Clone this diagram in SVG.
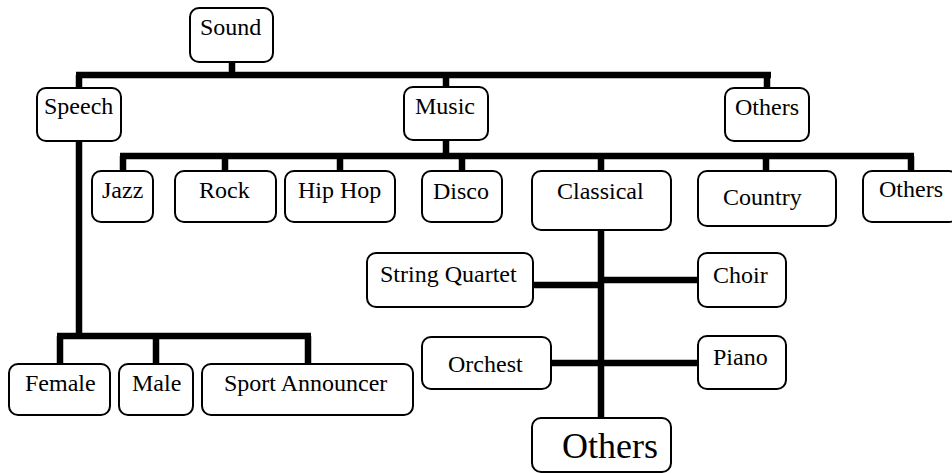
<svg xmlns="http://www.w3.org/2000/svg" width="952" height="473" viewBox="0 0 952 473">
<style>
.b{fill:#fff;stroke:#000;stroke-width:2}
text{font-family:'Liberation Serif','Times New Roman','DejaVu Serif',serif;font-size:24px;fill:#000}
.c{fill:none;stroke:#000;stroke-width:6.5;stroke-linecap:butt}
</style>
<rect width="952" height="473" fill="#fff"/>
<g id="connectors">
<path class="c" d="M232,62V75M76,75H771M79,75V88M446,75V87M767,75V88"/>
<path class="c" d="M79,141V339M57,336H311M60,336V364M156,336V364M308,336V364"/>
<path class="c" d="M446,140V156M120,156H914M123,156V171M225,156V171M340,156V171M462,156V171M601,156V171M766,156V171M911,156V171"/>
<path class="c" d="M601,230V418M601,280H698M530,285H601M551,363H698"/>
</g>
<g font-family="Liberation Serif, serif" font-size="24">
<g id="sound"><rect class="b" x="190" y="8" width="83" height="54" rx="9"/><text x="200" y="35">Sound</text></g>
<g id="speech"><rect class="b" x="37" y="88" width="84" height="53" rx="9"/><text x="44" y="114">Speech</text></g>
<g id="music"><rect class="b" x="404" y="87" width="84" height="53" rx="9"/><text x="415" y="114">Music</text></g>
<g id="others-top"><rect class="b" x="725" y="88" width="84" height="53" rx="9"/><text x="735" y="115">Others</text></g>
<g id="jazz"><rect class="b" x="92" y="171" width="61" height="51" rx="9"/><text x="102" y="198">Jazz</text></g>
<g id="rock"><rect class="b" x="175" y="171" width="101" height="51" rx="9"/><text x="199" y="198">Rock</text></g>
<g id="hiphop"><rect class="b" x="285" y="171" width="110" height="51" rx="9"/><text x="298" y="198">Hip Hop</text></g>
<g id="disco"><rect class="b" x="422" y="171" width="80" height="51" rx="9"/><text x="433" y="199">Disco</text></g>
<g id="classical"><rect class="b" x="532" y="171" width="139" height="59" rx="9"/><text x="557" y="199">Classical</text></g>
<g id="country"><rect class="b" x="698" y="171" width="138" height="55" rx="9"/><text x="723" y="205">Country</text></g>
<g id="others-music"><rect class="b" x="863" y="171" width="95" height="51" rx="9"/><text x="879" y="197">Others</text></g>
<g id="female"><rect class="b" x="9" y="364" width="101" height="51" rx="9"/><text x="25" y="391">Female</text></g>
<g id="male"><rect class="b" x="119" y="364" width="74" height="51" rx="9"/><text x="132" y="391">Male</text></g>
<g id="sport"><rect class="b" x="202" y="364" width="211" height="51" rx="9"/><text x="224" y="391">Sport Announcer</text></g>
<g id="string"><rect class="b" x="367" y="253" width="166" height="54" rx="9"/><text x="380" y="282">String Quartet</text></g>
<g id="choir"><rect class="b" x="698" y="253" width="88" height="54" rx="9"/><text x="713" y="283">Choir</text></g>
<g id="orchest"><rect class="b" x="422" y="337" width="129" height="52" rx="9"/><text x="448" y="372">Orchest</text></g>
<g id="piano"><rect class="b" x="698" y="336" width="88" height="53" rx="9"/><text x="713" y="365">Piano</text></g>
<g id="others-classical"><rect class="b" x="532" y="418" width="139" height="54" rx="9"/><text x="562" y="458" style="font-size:36px">Others</text></g>
</g>
</svg>
